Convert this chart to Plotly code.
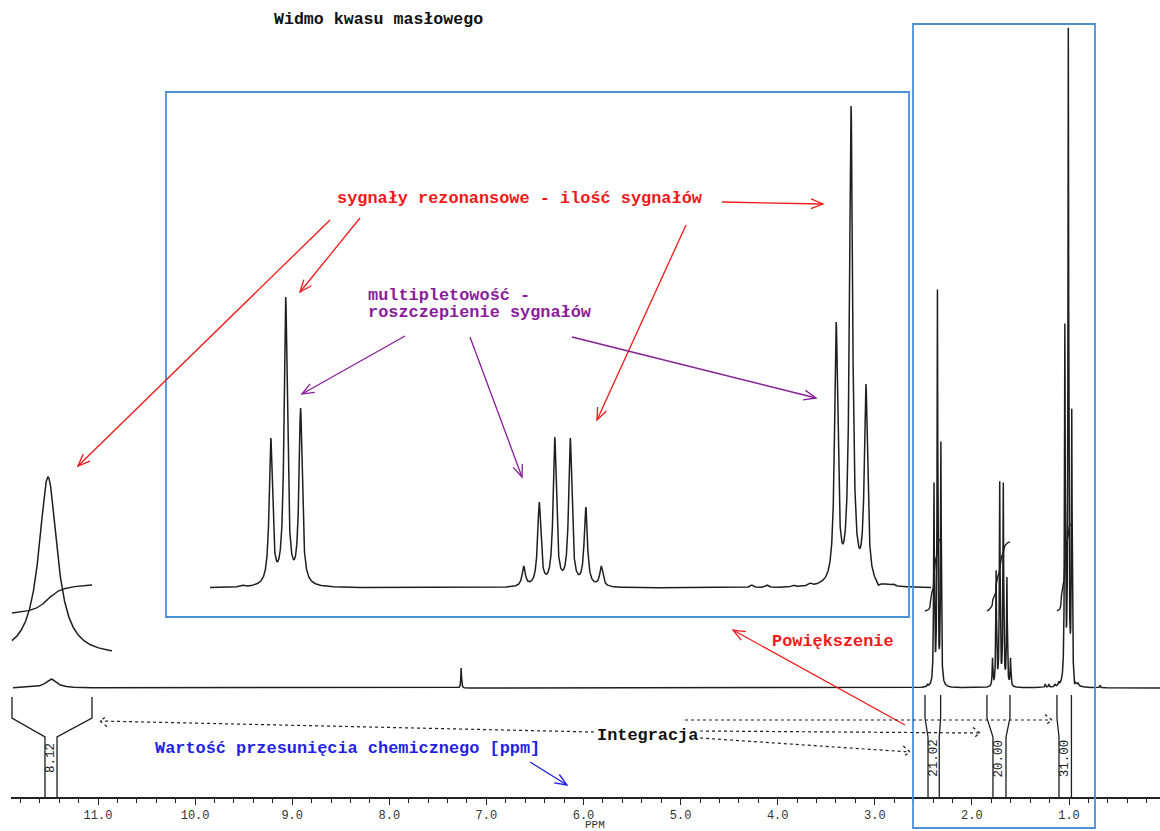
import math
import numpy as np
import plotly.graph_objects as go

# ---------------- data ----------------
# ppm axis ticks
tick_ppm = [11.0, 10.0, 9.0, 8.0, 7.0, 6.0, 5.0, 4.0, 3.0, 2.0, 1.0]

# butyric acid multiplets: ppm and apex height as drawn in the expanded inset (px)
triplet_a_ppm = [2.3905, 2.3550, 2.3195]          # CH2-COOH
triplet_a_int = [150, 291, 180]
sextet_b_ppm = [1.7875, 1.7505, 1.7135, 1.6765, 1.6395, 1.6025]  # CH2
sextet_b_int = [22, 86, 151, 150, 81, 22]
triplet_c_ppm = [1.0425, 1.0070, 0.9715]          # CH3
triplet_c_int = [266, 482, 204]
minor_ppm = [2.457, 2.254, 1.244, 1.208, 1.145, 1.105, 0.943, 0.907, 0.680]
minor_int = [3, 2, 3, 3, 3, 5, 3, 4, 2]
main_gain = 1.37            # full-range trace relative to the expansion

cooh_ppm = 11.484
cooh_int_main = 9
cooh_int_inset = 179
cooh_hwhm = 0.068
chcl3_ppm = 7.26
chcl3_int_main = 20
line_hwhm = 0.0045

# integrations
integral_labels = ["8.12", "21.02", "20.00", "31.00"]
integral_rise = [28, 72, 69, 87]
bracket_top_l = [11.886, 2.483, 1.845, 1.124]
bracket_top_r = [11.062, 2.322, 1.608, 0.975]
bracket_neck_l = [11.546, 2.452, 1.783, 1.103]
bracket_neck_r = [11.422, 2.336, 1.649, 0.975]
cooh_inset_int_range = [11.706, 11.212]

# ---------------- layout constants ----------------
W, H = 1160, 831
AXIS_Y = 797                      # pixel row of the ppm axis
PX_PER_PPM, PX_AT_11 = 97.1, 98.0
X_LEFT = 11
MAIN_RANGE = [11 + (PX_AT_11 - X_LEFT) / PX_PER_PPM, 11 - (W - PX_AT_11) / PX_PER_PPM]
INSET_PX_PER_PPM, INSET_REF_PX, INSET_REF_PPM = 419.4, 285.7, 2.355
INSET_RANGE = [INSET_REF_PPM + INSET_REF_PX / INSET_PX_PER_PPM,
               INSET_REF_PPM - (W - INSET_REF_PX) / INSET_PX_PER_PPM]
COOH_PX_PER_PPM, COOH_REF_PX = 162.0, 48.0
COOH_RANGE = [cooh_ppm + COOH_REF_PX / COOH_PX_PER_PPM,
              cooh_ppm - (W - COOH_REF_PX) / COOH_PX_PER_PPM]
MAIN_BASE, INSET_BASE, COOH_BASE, INT_BASE = 688, 588, 656, 611
PEN_OFFSET = 0.036

INK = "#1e1e1e"
RED = "#f01818"
PURPLE = "#8a1c9c"
BLUE = "#1f1fe6"
BOX = "#4a90d9"
MONO = "Liberation Mono, Courier New, monospace"
TXT = 16.9


def lorentz(g, p, h, w):
    return h / (1 + ((g - p) / w) ** 2)


# convert read apex heights into line amplitudes (remove overlap of neighbouring lines)
all_ppm = np.array(triplet_a_ppm + sextet_b_ppm + triplet_c_ppm + minor_ppm)
all_apex = np.array(triplet_a_int + sextet_b_int + triplet_c_int + minor_int, dtype=float)
overlap = 1.0 / (1.0 + ((all_ppm[:, None] - all_ppm[None, :]) / line_hwhm) ** 2)
all_amp = np.linalg.solve(overlap, all_apex)


def multiplet_signal(g):
    s = np.zeros_like(g)
    for p, h in zip(all_ppm, all_amp):
        s += lorentz(g, p, h, line_hwhm)
    return s


def main_signal(g):
    return (main_gain * multiplet_signal(g) + lorentz(g, cooh_ppm, cooh_int_main, cooh_hwhm)
            + lorentz(g, chcl3_ppm, chcl3_int_main, 0.004))


fig = go.Figure()

# full spectrum
g_main = np.linspace(11 - (13 - PX_AT_11) / PX_PER_PPM, MAIN_RANGE[1], 30000)
fig.add_trace(go.Scatter(x=g_main, y=MAIN_BASE - main_signal(g_main), mode="lines",
                         line=dict(color=INK, width=1.5), xaxis="x", yaxis="y",
                         hoverinfo="skip"))

# expanded inset (2.54 - 0.82 ppm)
g_in = np.linspace(INSET_REF_PPM - (210 - INSET_REF_PX) / INSET_PX_PER_PPM,
                   INSET_REF_PPM - (931 - INSET_REF_PX) / INSET_PX_PER_PPM, 8000)
fig.add_trace(go.Scatter(x=g_in, y=INSET_BASE - multiplet_signal(g_in), mode="lines",
                         line=dict(color=INK, width=1.5), xaxis="x2", yaxis="y",
                         hoverinfo="skip"))

# COOH expansion
g_c = np.linspace(cooh_ppm - (12 - COOH_REF_PX) / COOH_PX_PER_PPM,
                  cooh_ppm - (112 - COOH_REF_PX) / COOH_PX_PER_PPM, 500)
fig.add_trace(go.Scatter(x=g_c, y=COOH_BASE - lorentz(g_c, cooh_ppm, cooh_int_inset, cooh_hwhm),
                         mode="lines", line=dict(color=INK, width=1.5), xaxis="x3", yaxis="y",
                         hoverinfo="skip"))

# COOH integral (expansion)
g_ci = np.linspace(cooh_inset_int_range[0], cooh_inset_int_range[1], 400)
cum = np.cumsum(lorentz(g_ci, cooh_ppm, 1.0, cooh_hwhm))
cum = (cum - cum[0]) / (cum[-1] - cum[0])
fig.add_trace(go.Scatter(x=g_ci, y=613 - integral_rise[0] * cum, mode="lines",
                         line=dict(color=INK, width=1.4), xaxis="x3", yaxis="y",
                         hoverinfo="skip"))

# integrals of the three multiplets
for i in range(1, 4):
    gi = np.linspace(bracket_top_l[i], bracket_top_r[i], 600)
    s = main_gain * multiplet_signal(gi - PEN_OFFSET)
    c = np.cumsum(s)
    c = (c - c[0]) / (c[-1] - c[0])
    fig.add_trace(go.Scatter(x=gi, y=INT_BASE - integral_rise[i] * c, mode="lines",
                             line=dict(color=INK, width=1.4), xaxis="x", yaxis="y",
                             hoverinfo="skip"))

# integration brackets and values
for i in range(4):
    top = 697 if i == 0 else 695
    for xt, xn in ((bracket_top_l[i], bracket_neck_l[i]), (bracket_top_r[i], bracket_neck_r[i])):
        fig.add_shape(type="path", xref="x", yref="y",
                      path=f"M {xt},{top} L {xt},718 L {xn},737 L {xn},{AXIS_Y}",
                      line=dict(color=INK, width=1.3))
    fig.add_annotation(x=(bracket_neck_l[i] + bracket_neck_r[i]) / 2, y=758, xref="x", yref="y",
                       text=integral_labels[i], textangle=-90, showarrow=False,
                       font=dict(family=MONO, size=12.5, color=INK))


def P(px, py):
    return px / W, (AXIS_Y - py) / AXIS_Y


def add_arrow(x0, y0, x1, y1, color, width=1.3, head=13, spread=22, dash="solid"):
    a = math.atan2(y1 - y0, x1 - x0)
    pts = []
    for sgn in (1, -1):
        aa = a + sgn * math.radians(spread)
        pts.append((x1 - head * math.cos(aa), y1 - head * math.sin(aa)))
    X0, Y0 = P(x0, y0)
    X1, Y1 = P(x1, y1)
    fig.add_shape(type="line", xref="paper", yref="paper", x0=X0, y0=Y0, x1=X1, y1=Y1,
                  line=dict(color=color, width=width, dash=dash))
    (ax, ay), (bx, by) = P(*pts[0]), P(*pts[1])
    fig.add_shape(type="path", xref="paper", yref="paper",
                  path=f"M {ax},{ay} L {X1},{Y1} L {bx},{by}",
                  line=dict(color=color, width=width, dash=dash))


def add_text(text, x_left, y_center, color, size=TXT):
    X, Y = P(x_left, y_center)
    fig.add_annotation(x=X, y=Y, xref="paper", yref="paper", xanchor="left", yanchor="middle",
                       text=f"<b>{text}</b>", showarrow=False,
                       font=dict(family=MONO, size=size, color=color))


# blue frames
for (x0, y0, x1, y1) in ((166, 92, 909, 617), (913, 24, 1095, 828)):
    X0, Y0 = P(x0, y0)
    X1, Y1 = P(x1, y1)
    fig.add_shape(type="rect", xref="paper", yref="paper", x0=X0, y0=Y0, x1=X1, y1=Y1,
                  line=dict(color=BOX, width=1.8))

# texts
add_text("Widmo kwasu masłowego", 272, 20, "#111111", 16.6)
add_text("sygnały rezonansowe - ilość sygnałów", 335, 199, RED)
add_text("multipletowość -", 366, 295, PURPLE)
add_text("roszczepienie sygnałów", 366, 312, PURPLE)
add_text("Powiększenie", 770, 641, RED)
add_text("Integracja", 595, 735, "#111111")
add_text("Wartość przesunięcia chemicznego [ppm]", 153, 748, BLUE)

# red arrows
add_arrow(330, 220, 78, 466, RED)
add_arrow(360, 218, 300, 292, RED)
add_arrow(722, 202, 823, 204, RED)
add_arrow(686, 225, 597, 420, RED)
add_arrow(905, 725, 733, 630, RED)
# purple arrows
add_arrow(405, 336, 302, 394, PURPLE)
add_arrow(470, 337, 522, 477, PURPLE)
add_arrow(572, 337, 816, 398, PURPLE)
# blue arrow
add_arrow(530, 762, 567, 785, BLUE)
# dotted integration arrows
add_arrow(594, 732, 100, 721, INK, width=1.2, head=9, spread=38, dash="dot")
add_arrow(685, 720, 1052, 720, INK, width=1.2, head=9, spread=38, dash="dot")
add_arrow(700, 731, 980, 733, INK, width=1.2, head=9, spread=38, dash="dot")
add_arrow(700, 738, 910, 752, INK, width=1.2, head=9, spread=38, dash="dot")

# axis title
X, Y = P(595, 824.5)
fig.add_annotation(x=X, y=Y, xref="paper", yref="paper", text="PPM", showarrow=False,
                   yanchor="middle", font=dict(family=MONO, size=11, color="#333333"))

fig.update_layout(
    width=W, height=H,
    margin=dict(l=0, r=0, t=0, b=H - AXIS_Y, pad=0),
    paper_bgcolor="white", plot_bgcolor="rgba(0,0,0,0)",
    showlegend=False,
    xaxis=dict(domain=[X_LEFT / W, 1], range=MAIN_RANGE, tickmode="array", tickvals=tick_ppm,
               ticktext=[f"{t:.1f}" for t in tick_ppm], ticks="outside", ticklen=6,
               tickwidth=1.2, tickcolor="#222", showline=True, linecolor="#222", linewidth=1.5,
               showgrid=False, zeroline=False, automargin=False, ticklabelstandoff=0,
               tickfont=dict(family=MONO, size=12, color="#333333"),
               minor=dict(dtick=0.2, tick0=0, ticks="outside", ticklen=4, tickwidth=1,
                          tickcolor="#222", showgrid=False),
               fixedrange=True),
    xaxis2=dict(domain=[0, 1], range=INSET_RANGE, anchor="y", visible=False, fixedrange=True),
    xaxis3=dict(domain=[0, 1], range=COOH_RANGE, anchor="y", visible=False, fixedrange=True),
    yaxis=dict(domain=[0, 1], range=[AXIS_Y, 0], visible=False, fixedrange=True),
)

fig.write_html("out.html", config={"displayModeBar": False},
               post_script="document.body.style.margin='0px';")
